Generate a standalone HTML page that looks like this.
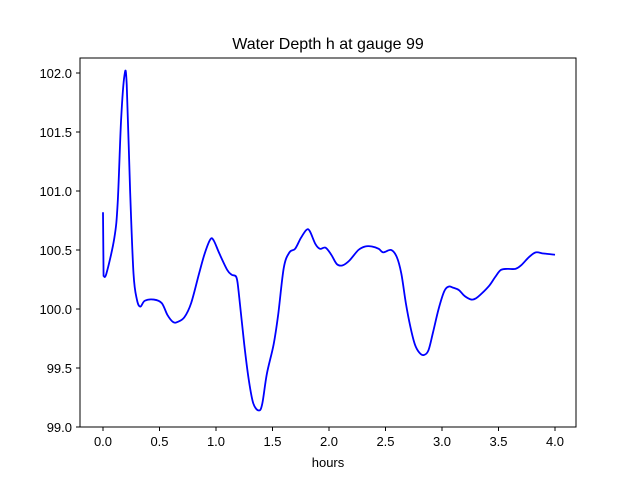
<!DOCTYPE html>
<html><head><meta charset="utf-8"><style>
body{margin:0;background:#fff;}
svg{display:block;font-family:"Liberation Sans","DejaVu Sans",sans-serif;}
</style></head><body>
<svg id="chart" width="640" height="480" viewBox="0 0 640 480">
<rect width="640" height="480" fill="#fff"/>
<text x="328" y="49" font-size="16" text-anchor="middle">Water Depth h at gauge 99</text>
<g id="axes"></g>
<path id="line" fill="none" stroke="#0000ff" stroke-width="1.8" stroke-linejoin="round"/>
<rect x="80" y="58" width="496" height="369" fill="none" stroke="#000" stroke-width="1"/>
<text x="328" y="467" font-size="13" text-anchor="middle">hours</text>
</svg>
<script>
const times=[0,0.005,0.03,0.1,0.13,0.16,0.19,0.21,0.24,0.27,0.3,0.33,0.37,0.45,0.52,0.57,0.62,0.66,0.72,0.78,0.85,0.9,0.95,0.98,1.03,1.1,1.14,1.18,1.2,1.25,1.29,1.33,1.38,1.41,1.45,1.51,1.55,1.6,1.65,1.7,1.75,1.8,1.83,1.88,1.92,1.97,2.02,2.07,2.12,2.18,2.26,2.32,2.38,2.44,2.48,2.55,2.6,2.64,2.68,2.72,2.76,2.8,2.84,2.88,2.92,2.97,3.02,3.06,3.1,3.15,3.2,3.26,3.3,3.35,3.42,3.47,3.52,3.58,3.65,3.7,3.77,3.83,3.9,4.0];
const depths=[100.82,100.28,100.3,100.6,100.9,101.6,101.98,101.9,101.0,100.3,100.08,100.02,100.07,100.08,100.05,99.95,99.89,99.89,99.93,100.05,100.3,100.47,100.59,100.58,100.47,100.33,100.29,100.27,100.15,99.7,99.4,99.2,99.14,99.2,99.45,99.7,99.95,100.35,100.48,100.51,100.6,100.67,100.66,100.55,100.51,100.52,100.46,100.38,100.37,100.41,100.5,100.53,100.53,100.51,100.48,100.5,100.44,100.3,100.05,99.85,99.7,99.63,99.61,99.65,99.8,100.0,100.15,100.19,100.18,100.16,100.11,100.08,100.09,100.13,100.2,100.27,100.33,100.34,100.34,100.37,100.44,100.48,100.47,100.46];
const xTicks=[0,0.5,1,1.5,2,2.5,3,3.5,4];
const xTickLabels=["0.0","0.5","1.0","1.5","2.0","2.5","3.0","3.5","4.0"];
const yTicks=[99,99.5,100,100.5,101,101.5,102];
const yTickLabels=["99.0","99.5","100.0","100.5","101.0","101.5","102.0"];
const xs=v=>103+v*113;
const ys=v=>427-(v-99)*118;
const NS="http://www.w3.org/2000/svg";
const ax=document.getElementById('axes');
xTicks.forEach((t,i)=>{
  const l=document.createElementNS(NS,'line');
  l.setAttribute('x1',xs(t));l.setAttribute('x2',xs(t));l.setAttribute('y1',427);l.setAttribute('y2',431);l.setAttribute('stroke','#000');
  
  
  ax.appendChild(l);
  const tx=document.createElementNS(NS,'text');
  tx.setAttribute('x',xs(t));tx.setAttribute('y',446);tx.setAttribute('font-size','13');tx.setAttribute('text-anchor','middle');
  tx.textContent=xTickLabels[i];
  
  
  ax.appendChild(tx);
});
yTicks.forEach((t,i)=>{
  const l=document.createElementNS(NS,'line');
  l.setAttribute('x1',76);l.setAttribute('x2',80);l.setAttribute('y1',ys(t));l.setAttribute('y2',ys(t));l.setAttribute('stroke','#000');
  
  
  ax.appendChild(l);
  const tx=document.createElementNS(NS,'text');
  tx.setAttribute('x',72);tx.setAttribute('y',ys(t)+5);tx.setAttribute('font-size','13');tx.setAttribute('text-anchor','end');
  tx.textContent=yTickLabels[i];
  
  
  ax.appendChild(tx);
});
// Catmull-Rom smoothing
const pts=times.map((t,i)=>[xs(t),ys(depths[i])]);
let d='M'+pts[0][0]+','+pts[0][1]+' L'+pts[1][0]+','+pts[1][1];
for(let i=1;i<pts.length-1;i++){
  const p0=pts[Math.max(i-1,1)],p1=pts[i],p2=pts[i+1],p3=pts[Math.min(i+2,pts.length-1)];
  const c1=[p1[0]+(p2[0]-p0[0])/6,p1[1]+(p2[1]-p0[1])/6];
  const c2=[p2[0]-(p3[0]-p1[0])/6,p2[1]-(p3[1]-p1[1])/6];
  d+=` C${c1[0]},${c1[1]} ${c2[0]},${c2[1]} ${p2[0]},${p2[1]}`;
}
document.getElementById('line').setAttribute('d',d);
</script>
</body></html>
